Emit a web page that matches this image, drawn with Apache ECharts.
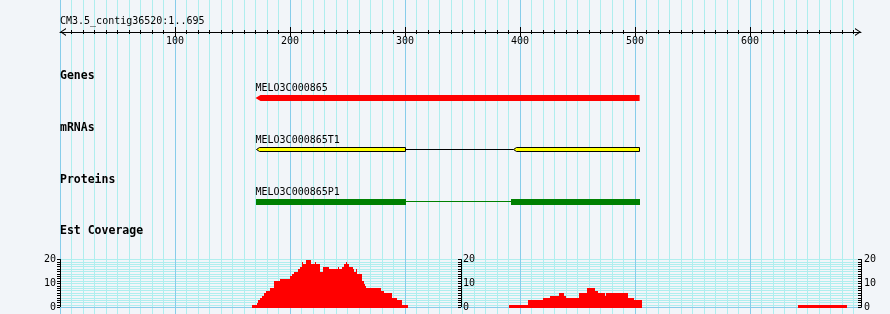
<!DOCTYPE html>
<html><head><meta charset="utf-8">
<script src="https://cdn.jsdelivr.net/npm/echarts@6/dist/echarts.min.js"></script>
<style>html,body{margin:0;padding:0;background:#f2f5f9;}#c{width:890px;height:314px;}</style>
</head><body><div id="c"></div>
<script>
// ---------------- data ----------------
const refName = 'CM3.5_contig36520:1..695';
const seqMin = 0;
const seqMax = 696.5;
const rulerTicks = [100, 200, 300, 400, 500, 600];
const trackLabels = ['Genes', 'mRNAs', 'Proteins', 'Est Coverage'];
const geneName = 'MELO3C000865';
const geneSpan = [170, 504];
const mrnaName = 'MELO3C000865T1';
const mrnaExons = [[170, 300.5], [393.5, 504]];
const proteinName = 'MELO3C000865P1';
const proteinExons = [[170, 301], [392, 504]];
const covStart = [167, 171, 172.5, 174, 176, 177.5, 179, 183, 186, 191, 200, 202, 203.5, 207, 209, 210.5, 211.5, 214, 218.5, 222, 223, 226, 229, 233.5, 242, 243, 245, 247, 248.5, 249.5, 251.5, 254.5, 255.5, 257, 258, 262.5, 264, 265, 266, 279, 282, 289, 293, 297,
  390.5, 407, 420, 426, 434, 438, 440, 451.5, 458.5, 465, 468, 474, 475, 494, 499,
  642];
const covEnd = [171, 172.5, 174, 176, 177.5, 179, 183, 186, 191, 200, 202, 203.5, 207, 209, 210.5, 211.5, 214, 218.5, 222, 223, 226, 229, 233.5, 242, 243, 245, 247, 248.5, 249.5, 251.5, 254.5, 255.5, 257, 258, 262.5, 264, 265, 266, 279, 282, 289, 293, 297, 303,
  407, 420, 426, 434, 438, 440, 451.5, 458.5, 465, 468, 474, 475, 494, 499, 506,
  684];
const covValue = [1, 2, 3, 4, 5, 6, 7, 8, 11, 12, 13, 14, 15, 16, 17, 19, 18, 20, 18, 19, 18, 15, 17, 16, 17, 16, 17, 18, 19, 18, 17, 16, 15, 16, 14, 11, 10, 9, 8, 7, 6, 4, 3, 1,
  1, 3, 4, 5, 6, 5, 4, 6, 8, 7, 6, 5, 6, 4, 3,
  1];
const covMin = 0;
const covMax = 20;

// ---------------- style / layout ----------------
const FONT = 'DejaVu Sans Mono';
const BG = '#f2f5f9';
const MINOR = '#afeeee';
const MAJOR = '#87cdea';
const L = 60, W = 801;
const trackLabelY = [76, 128, 180, 231.5];
const arrowPath = 'path://M0,6 L4,0 L8,6 L6.8,6 L4,1.7 L1.2,6 Z';

function hiddenX(gi) {
  return { type: 'value', gridIndex: gi, min: seqMin, max: seqMax, interval: 100, show: false };
}
function hiddenY(gi) {
  return { type: 'value', gridIndex: gi, min: 0, max: 1, show: false };
}

const chart = echarts.init(document.getElementById('c'), null, { renderer: 'canvas' });

function labelText(x, y, text) {
  return { type: 'text', x: x, y: y, z2: 50, style: { text: text, fontFamily: FONT, fontSize: 10, fill: '#000', align: 'left', verticalAlign: 'middle' } };
}

const option = {
  backgroundColor: BG,
  animation: false,
  grid: [
    { left: L, width: W, top: 0, height: 314 },      // background grid lines
    { left: L, width: W, top: 20, height: 12 },      // ruler
    { left: L, width: W, top: 95, height: 6 },       // genes
    { left: L, width: W, top: 147, height: 5 },      // mRNAs
    { left: L, width: W, top: 199, height: 6 },      // proteins
    { left: L, width: W, top: 259.5, height: 48 }    // coverage
  ],
  xAxis: [
    {
      type: 'value', gridIndex: 0, min: seqMin, max: seqMax, interval: 100,
      axisLine: { show: false }, axisTick: { show: false }, axisLabel: { show: false },
      minorTick: { show: false, splitNumber: 10 },
      splitLine: { show: true, showMinLine: true, showMaxLine: false, lineStyle: { color: MAJOR, width: 1 } },
      minorSplitLine: { show: true, lineStyle: { color: MINOR, width: 1 } }
    },
    {
      type: 'value', gridIndex: 1, min: seqMin, max: seqMax, interval: 100, position: 'bottom',
      axisLine: { show: true, lineStyle: { color: '#000', width: 1 }, symbol: [arrowPath, arrowPath], symbolSize: [8, 6], symbolOffset: [3, -3] },
      axisTick: { show: true, length: 5, inside: false, customValues: rulerTicks, lineStyle: { color: '#000' } },
      minorTick: { show: true, splitNumber: 10, length: 2, lineStyle: { color: '#000' } },
      axisLabel: { show: true, customValues: rulerTicks, margin: 4, fontFamily: FONT, fontSize: 10, color: '#000' },
      splitLine: { show: false }
    },
    {
      type: 'value', gridIndex: 1, min: seqMin, max: seqMax, interval: 100, position: 'bottom',
      axisLine: { show: false },
      axisTick: { show: true, length: 5, inside: true, customValues: rulerTicks, lineStyle: { color: '#000' } },
      minorTick: { show: true, splitNumber: 10, length: 2, lineStyle: { color: '#000' } },
      axisLabel: { show: false },
      splitLine: { show: false }
    },
    hiddenX(2), hiddenX(3), hiddenX(4),
    {
      type: 'value', gridIndex: 5, min: seqMin, max: seqMax, interval: 100, position: 'bottom',
      axisLine: { show: true, lineStyle: { color: MAJOR, width: 1 } },
      axisTick: { show: false }, axisLabel: { show: false }, splitLine: { show: false }
    }
  ],
  yAxis: [
    hiddenY(0), hiddenY(1), hiddenY(2), hiddenY(3), hiddenY(4),
    {
      type: 'value', gridIndex: 5, position: 'left', min: covMin, max: covMax, interval: 10,
      axisLine: { show: true, lineStyle: { color: '#000' } },
      axisTick: { show: true, length: 3, lineStyle: { color: '#000' } },
      minorTick: { show: true, splitNumber: 10, length: 3, lineStyle: { color: '#000' } },
      axisLabel: { margin: 4, fontFamily: FONT, fontSize: 10, color: '#000' },
      splitLine: { show: true, showMinLine: false, lineStyle: { color: MINOR } },
      minorSplitLine: { show: true, lineStyle: { color: MINOR } }
    },
    {
      type: 'value', gridIndex: 5, position: 'left', offset: -401, min: covMin, max: covMax, interval: 10,
      axisLine: { show: true, lineStyle: { color: '#000' } },
      axisTick: { show: true, length: 3, lineStyle: { color: '#000' } },
      minorTick: { show: true, splitNumber: 10, length: 3, lineStyle: { color: '#000' } },
      axisLabel: { inside: true, margin: 2, fontFamily: FONT, fontSize: 10, color: '#000' },
      splitLine: { show: false }
    },
    {
      type: 'value', gridIndex: 5, position: 'right', offset: 0, min: covMin, max: covMax, interval: 10,
      axisLine: { show: true, lineStyle: { color: '#000' } },
      axisTick: { show: true, inside: true, length: 3, lineStyle: { color: '#000' } },
      minorTick: { show: true, splitNumber: 10, length: 3, lineStyle: { color: '#000' } },
      axisLabel: { margin: 3, fontFamily: FONT, fontSize: 10, color: '#000' },
      splitLine: { show: false }
    }
  ],
  graphic: {
    elements: [
      { type: 'text', x: L, y: 21, z: 100, style: { text: refName, fontFamily: FONT, fontSize: 10, fill: '#000', align: 'left', verticalAlign: 'middle' } }
    ].concat(trackLabels.map(function (t, i) {
      return { type: 'text', x: L, y: trackLabelY[i], z: 100, style: { text: t, fontFamily: FONT, fontSize: 11.5, fontWeight: 'bold', fill: '#000', align: 'left', verticalAlign: 'middle' } };
    }))
  },
  series: [
    {
      type: 'custom', xAxisIndex: 3, yAxisIndex: 2, clip: false, z: 5,
      data: [[geneSpan[0], geneSpan[1]]],
      encode: { x: [0, 1] },
      renderItem: function (params, api) {
        const a = api.coord([api.value(0), 1]);
        const b = api.coord([api.value(1), 0]);
        const x0 = a[0], x1 = b[0], y0 = a[1], y1 = b[1], ym = (y0 + y1) / 2, tip = 5;
        return {
          type: 'group', children: [
            { type: 'polygon', shape: { points: [[x0, ym], [x0 + tip, y0], [x1, y0], [x1, y1], [x0 + tip, y1]] }, style: { fill: '#ff0000' } },
            labelText(x0, y0 - 7, geneName)
          ]
        };
      }
    },
    {
      type: 'custom', xAxisIndex: 4, yAxisIndex: 3, clip: false, z: 5,
      data: mrnaExons.map(function (e) { return [e[0], e[1]]; }),
      encode: { x: [0, 1] },
      renderItem: function (params, api) {
        const i = params.dataIndex;
        const a = api.coord([api.value(0), 1]);
        const b = api.coord([api.value(1), 0]);
        const x0 = Math.round(a[0]) + 0.5, x1 = Math.round(b[0]) - 0.5, y0 = a[1] + 0.5, y1 = b[1] - 0.5, ym = (a[1] + b[1]) / 2;
        const tip = 3;
        const kids = [
          { type: 'polygon', shape: { points: [[x0, ym], [x0 + tip, y0], [x1, y0], [x1, y1], [x0 + tip, y1]] }, style: { fill: '#ffff00', stroke: '#000', lineWidth: 1 } }
        ];
        if (i > 0) {
          const p = api.coord([mrnaExons[i - 1][1], 0]);
          kids.unshift({ type: 'line', shape: { x1: Math.round(p[0]), y1: ym, x2: x0, y2: ym }, style: { stroke: '#000', lineWidth: 1 } });
        } else {
          kids.push(labelText(a[0], a[1] - 7, mrnaName));
        }
        return { type: 'group', children: kids };
      }
    },
    {
      type: 'custom', xAxisIndex: 5, yAxisIndex: 4, clip: false, z: 5,
      data: proteinExons.map(function (e) { return [e[0], e[1]]; }),
      encode: { x: [0, 1] },
      renderItem: function (params, api) {
        const i = params.dataIndex;
        const a = api.coord([api.value(0), 1]);
        const b = api.coord([api.value(1), 0]);
        const x0 = Math.round(a[0]), x1 = Math.round(b[0]);
        const ym = Math.floor((a[1] + b[1]) / 2) - 0.5;
        const kids = [
          { type: 'rect', shape: { x: x0, y: a[1], width: x1 - x0, height: b[1] - a[1] }, style: { fill: '#008000' } }
        ];
        if (i > 0) {
          const p = api.coord([proteinExons[i - 1][1], 0]);
          kids.unshift({ type: 'line', shape: { x1: Math.round(p[0]), y1: ym, x2: x0, y2: ym }, style: { stroke: '#008000', lineWidth: 1 } });
        } else {
          kids.push(labelText(a[0], a[1] - 7, proteinName));
        }
        return { type: 'group', children: kids };
      }
    },
    {
      type: 'custom', xAxisIndex: 6, yAxisIndex: 5, clip: false, z: 5,
      data: covStart.map(function (s, i) { return [s, covEnd[i], covValue[i]]; }),
      encode: { x: [0, 1], y: 2 },
      renderItem: function (params, api) {
        const a = api.coord([api.value(0), api.value(2)]);
        const b = api.coord([api.value(1), 0]);
        const x0 = Math.round(a[0]), x1 = Math.round(b[0]);
        return { type: 'rect', shape: { x: x0, y: Math.round(a[1]), width: Math.max(1, x1 - x0), height: Math.round(b[1]) - Math.round(a[1]) }, style: { fill: '#ff0000' } };
      }
    }
  ]
};
chart.setOption(option);
</script>
</body></html>
